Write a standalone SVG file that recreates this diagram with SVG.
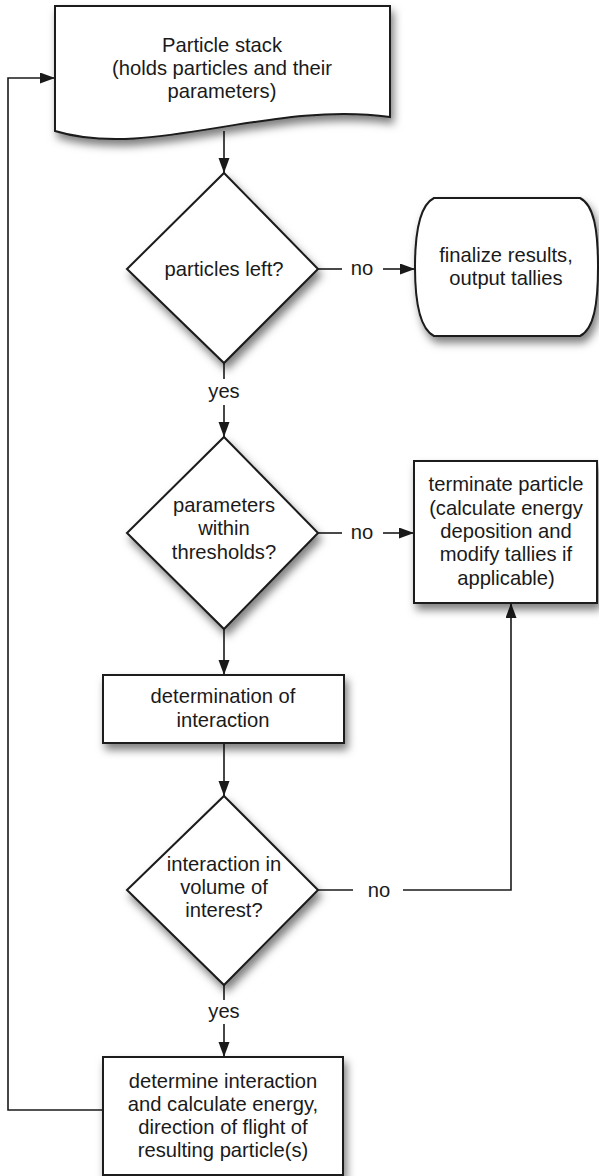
<svg xmlns="http://www.w3.org/2000/svg" width="599" height="1176" viewBox="0 0 599 1176">
<style>
.shape{fill:#fff;stroke:#1a1a1a;stroke-width:2;filter:url(#sh)}
.conn{fill:none;stroke:#1a1a1a;stroke-width:1.6}
text{font-family:"Liberation Sans",Arial,Helvetica,sans-serif;font-size:20.2px;fill:#1a1a1a;text-anchor:middle}
</style>
<defs>
<filter id="sh" x="-20%" y="-20%" width="150%" height="150%">
<feDropShadow dx="3" dy="6" stdDeviation="4" flood-color="#000" flood-opacity="0.5"/>
</filter>
<marker id="ah" markerUnits="userSpaceOnUse" markerWidth="16" markerHeight="12" refX="15" refY="5.5" orient="auto">
<path d="M0,0 L15,5.5 L0,11 z" fill="#1a1a1a"/>
</marker>
</defs>
<g id="connectors">
<path class="conn" d="M224,131 V173" marker-end="url(#ah)"/>
<path class="conn" d="M318,269 H342"/>
<path class="conn" d="M383,269 H415" marker-end="url(#ah)"/>
<text x="362" y="275">no</text>
<path class="conn" d="M224,363 V379"/>
<path class="conn" d="M224,405 V437" marker-end="url(#ah)"/>
<text x="224" y="398">yes</text>
<path class="conn" d="M318,533 H342"/>
<path class="conn" d="M383,533 H414" marker-end="url(#ah)"/>
<text x="362" y="539">no</text>
<path class="conn" d="M224,629 V675" marker-end="url(#ah)"/>
<path class="conn" d="M224,743 V796" marker-end="url(#ah)"/>
<path class="conn" d="M318,890 H353"/>
<path class="conn" d="M403,890 H511 V603" marker-end="url(#ah)"/>
<text x="379" y="897">no</text>
<path class="conn" d="M224,985 V1000"/>
<path class="conn" d="M224,1024 V1057" marker-end="url(#ah)"/>
<text x="224" y="1018">yes</text>
<path class="conn" d="M103,1110 H8 V78 H55" marker-end="url(#ah)"/>
</g>
<g id="stack">
<path class="shape" d="M55,6 H390 V117 C270,100 150,160 55,131 Z"/>
<text x="222" y="52">Particle stack</text>
<text x="222" y="75">(holds particles and their</text>
<text x="222" y="98">parameters)</text>
</g>
<g id="particles-left">
<path class="shape" d="M224,173 L318,269 L224,363 L127,269 Z"/>
<text x="224" y="276">particles left?</text>
</g>
<g id="finalize">
<path class="shape" d="M434,198 H580 C594,205 598,230 598,267 C598,304 594,329 580,336 H434 C420,329 415,304 415,267 C415,230 420,205 434,198 Z"/>
<text x="506" y="262">finalize results,</text>
<text x="506" y="285">output tallies</text>
</g>
<g id="thresholds">
<path class="shape" d="M224,437 L318,533 L224,629 L127,533 Z"/>
<text x="224" y="512">parameters</text>
<text x="224" y="535">within</text>
<text x="224" y="559">thresholds?</text>
</g>
<g id="terminate">
<rect class="shape" x="414" y="461" width="183" height="142"/>
<text x="506" y="491">terminate particle</text>
<text x="506" y="515">(calculate energy</text>
<text x="506" y="538">deposition and</text>
<text x="506" y="561">modify tallies if</text>
<text x="506" y="585">applicable)</text>
</g>
<g id="determination">
<rect class="shape" x="103" y="675" width="241" height="68"/>
<text x="223" y="703">determination of</text>
<text x="223" y="727">interaction</text>
</g>
<g id="volume">
<path class="shape" d="M224,796 L318,890 L224,985 L127,890 Z"/>
<text x="224" y="871">interaction in</text>
<text x="224" y="894">volume of</text>
<text x="224" y="917">interest?</text>
</g>
<g id="determine">
<rect class="shape" x="103" y="1057" width="240" height="118"/>
<text x="223" y="1088">determine interaction</text>
<text x="223" y="1111">and calculate energy,</text>
<text x="223" y="1134">direction of flight of</text>
<text x="223" y="1157">resulting particle(s)</text>
</g>
</svg>
